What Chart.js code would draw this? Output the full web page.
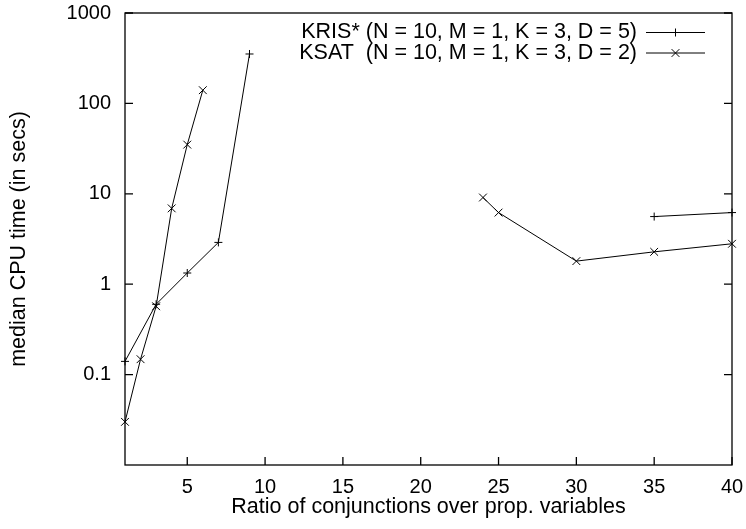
<!DOCTYPE html>
<html>
<head>
<meta charset="utf-8">
<script src="https://cdn.jsdelivr.net/npm/chart.js@4"></script>
<style>
  html, body { margin: 0; padding: 0; background: #fff; }
</style>
</head>
<body>
<canvas id="cpuChart" width="746" height="529"></canvas>
<script>
// median CPU time against ratio of conjunctions, two solvers (null = break in the curve)
const krisRatio = [1, 3, 5, 7, 9, 22, 35, 40];
const krisTime  = [0.14, 0.6, 1.33, 2.9, 352, null, 5.6, 6.2];
const ksatRatio = [1, 2, 3, 4, 5, 6, 15, 24, 25, 30, 35, 40];
const ksatTime  = [0.03, 0.148, 0.57, 6.9, 35, 140, null, 9.1, 6.2, 1.8, 2.28, 2.8];

const xTicks = [5, 10, 15, 20, 25, 30, 35, 40];
const yTicks = [0.1, 1, 10, 100, 1000];
const seriesLabels = [
  'KRIS* (N = 10, M = 1, K = 3, D = 5)',
  'KSAT  (N = 10, M = 1, K = 3, D = 2)'
];

const FONT = "'Liberation Sans', Arial, sans-serif";
Chart.defaults.font.family = FONT;
Chart.defaults.font.size = 20;
Chart.defaults.color = '#000';

const toPoints = (xs, ys) => xs.map((x, i) => ({ x, y: ys[i] }));

// gnuplot style frame: box border with inward ticks (left, right, bottom)
const framePlugin = {
  id: 'frame',
  beforeDatasetsDraw(chart) {
    const { ctx, chartArea: a, scales: { x, y } } = chart;
    ctx.save();
    ctx.strokeStyle = '#000';
    ctx.lineWidth = 1.3;
    ctx.beginPath();
    x.ticks.forEach(t => {
      const px = x.getPixelForValue(t.value);
      ctx.moveTo(px, a.bottom);
      ctx.lineTo(px, a.bottom - 8);
    });
    y.ticks.forEach(t => {
      const py = y.getPixelForValue(t.value);
      ctx.moveTo(a.left, py);
      ctx.lineTo(a.left + 8, py);
      ctx.moveTo(a.right, py);
      ctx.lineTo(a.right - 8, py);
    });
    ctx.stroke();
    ctx.strokeRect(a.left, a.top, a.right - a.left, a.bottom - a.top);
    ctx.restore();
  }
};

// key in the top right corner: label, then sample line with its marker
const keyPlugin = {
  id: 'key',
  afterDatasetsDraw(chart) {
    const { ctx } = chart;
    const textRight = 637, lineL = 646, lineR = 705;
    ctx.save();
    ctx.font = '21.5px ' + FONT;
    ctx.textAlign = 'right';
    ctx.textBaseline = 'middle';
    ctx.fillStyle = '#000';
    chart.data.datasets.forEach((ds, i) => {
      const yy = 32.5 + i * 20.5;
      ctx.fillText(ds.label, textRight, yy);
      ctx.strokeStyle = '#000';
      ctx.lineWidth = 1;
      ctx.beginPath();
      ctx.moveTo(lineL, yy);
      ctx.lineTo(lineR, yy);
      ctx.stroke();
      Chart.helpers.drawPoint(ctx, {
        pointStyle: ds.pointStyle, radius: ds.pointRadius, rotation: 0, borderWidth: 1
      }, (lineL + lineR) / 2, yy);
    });
    ctx.restore();
  }
};

const lineStyle = {
  borderColor: '#000', borderWidth: 1, tension: 0,
  pointBorderColor: '#000', pointBackgroundColor: '#000', pointBorderWidth: 1,
  spanGaps: false, clip: false
};

new Chart(document.getElementById('cpuChart'), {
  type: 'line',
  data: {
    datasets: [
      { ...lineStyle, label: seriesLabels[0], data: toPoints(krisRatio, krisTime), pointStyle: 'cross', pointRadius: 4 },
      { ...lineStyle, label: seriesLabels[1], data: toPoints(ksatRatio, ksatTime), pointStyle: 'crossRot', pointRadius: 5.5 }
    ]
  },
  options: {
    responsive: false, animation: false,
    layout: { padding: { top: 13, right: 14, left: 0, bottom: 0 } },
    plugins: { legend: { display: false }, tooltip: { enabled: false } },
    scales: {
      x: {
        type: 'linear', min: 1, max: 40,
        grid: { display: false, drawTicks: false }, border: { display: false },
        afterBuildTicks: s => { s.ticks = xTicks.map(v => ({ value: v })); },
        afterFit: s => { s.height = 64; s.paddingLeft = 0; s.paddingRight = 0; },
        ticks: { padding: 10, maxRotation: 0, callback: v => String(v) },
        title: { display: true, text: 'Ratio of conjunctions over prop. variables', font: { size: 21.5 }, padding: { top: 0, bottom: 9 } }
      },
      y: {
        type: 'logarithmic', min: 0.01, max: 1000,
        grid: { display: false, drawTicks: false }, border: { display: false },
        afterBuildTicks: s => { s.ticks = yTicks.map(v => ({ value: v })); },
        afterFit: s => { s.width = 125; s.paddingTop = 0; s.paddingBottom = 0; },
        ticks: { padding: 14, callback: v => String(v) },
        title: { display: true, text: 'median CPU time (in secs)', font: { size: 21.5 }, padding: { top: 6, bottom: 0 } }
      }
    }
  },
  plugins: [framePlugin, keyPlugin]
});
</script>
</body>
</html>
